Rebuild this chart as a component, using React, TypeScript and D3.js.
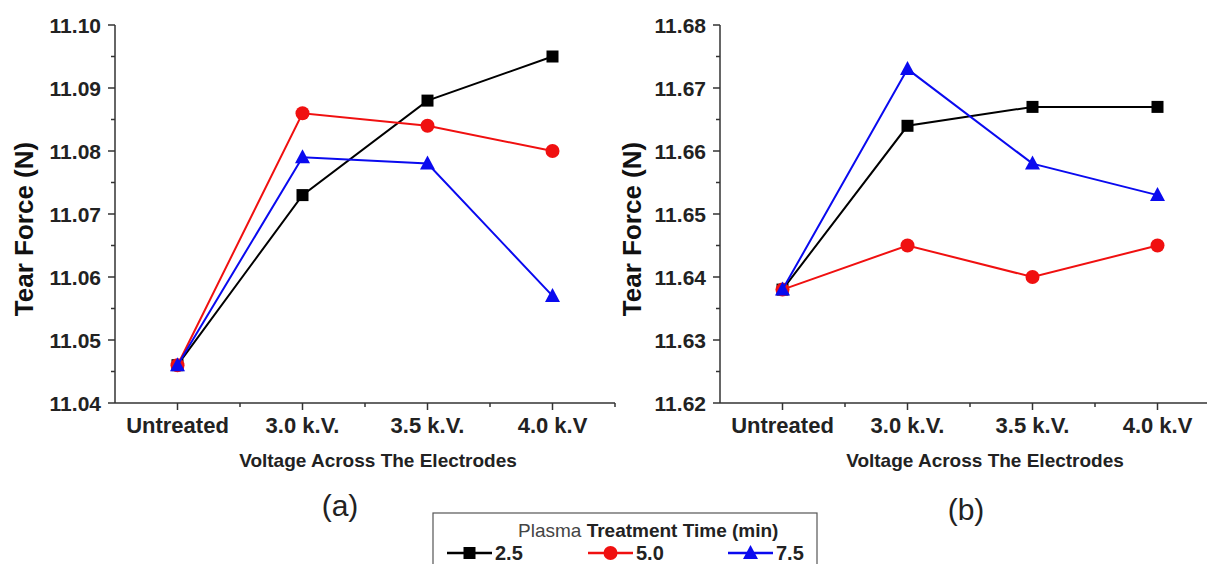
import React, { useEffect, useRef } from 'react';
import * as d3 from 'd3';

const categories = ['Untreated', '3.0 k.V.', '3.5 k.V.', '4.0 k.V'];
const seriesNames = ['2.5', '5.0', '7.5'];
const seriesColors = ['#000000', '#f01010', '#0a0aef'];
const seriesShapes = ['square', 'circle', 'triangle'];

// panel (a)
const ticksA = [11.04, 11.05, 11.06, 11.07, 11.08, 11.09, 11.1];
const a25 = [11.046, 11.073, 11.088, 11.095];
const a50 = [11.046, 11.086, 11.084, 11.08];
const a75 = [11.046, 11.079, 11.078, 11.057];

// panel (b)
const ticksB = [11.62, 11.63, 11.64, 11.65, 11.66, 11.67, 11.68];
const b25 = [11.638, 11.664, 11.667, 11.667];
const b50 = [11.638, 11.645, 11.64, 11.645];
const b75 = [11.638, 11.673, 11.658, 11.653];

const FONT = 'Liberation Sans, Arial, sans-serif';

const drawMarker = (g, shape, x, y, color) => {
  if (shape === 'square') {
    g.append('rect').attr('x', x - 6).attr('y', y - 6).attr('width', 12).attr('height', 12).attr('fill', color);
  } else if (shape === 'circle') {
    g.append('circle').attr('cx', x).attr('cy', y).attr('r', 7).attr('fill', color);
  } else {
    g.append('path')
      .attr('d', `M${x},${y - 8}L${x + 7.5},${y + 6}L${x - 7.5},${y + 6}Z`)
      .attr('fill', color);
  }
};

const drawPanel = (svg, opts) => {
  const { left, right, top, bottom, domain, ticks, series, label, labelX, labelY, titleX } = opts;
  const g = svg.append('g');

  const x = d3.scalePoint().domain(categories).range([left, right]).padding(0.5);
  const y = d3.scaleLinear().domain(domain).range([bottom, top]);
  const step = x.step();

  // axes lines
  g.append('line').attr('x1', left).attr('x2', left).attr('y1', top).attr('y2', bottom)
    .attr('stroke', '#333').attr('stroke-width', 1.5);
  g.append('line').attr('x1', left).attr('x2', right).attr('y1', bottom).attr('y2', bottom)
    .attr('stroke', '#333').attr('stroke-width', 1.5);

  // y ticks (major + minor)
  ticks.forEach((t, i) => {
    g.append('line').attr('x1', left - 7).attr('x2', left).attr('y1', y(t)).attr('y2', y(t))
      .attr('stroke', '#333').attr('stroke-width', 1.5);
    g.append('text').attr('x', left - 14).attr('y', y(t)).attr('dy', '0.36em')
      .attr('text-anchor', 'end').attr('font-family', FONT).attr('font-weight', 'bold')
      .attr('font-size', 21).attr('fill', '#222').text(t.toFixed(2));
    if (i < ticks.length - 1) {
      const m = (t + ticks[i + 1]) / 2;
      g.append('line').attr('x1', left - 4).attr('x2', left).attr('y1', y(m)).attr('y2', y(m))
        .attr('stroke', '#333').attr('stroke-width', 1.5);
    }
  });

  // x ticks
  categories.forEach(c => {
    g.append('line').attr('x1', x(c)).attr('x2', x(c)).attr('y1', bottom).attr('y2', bottom + 7)
      .attr('stroke', '#333').attr('stroke-width', 1.5);
    g.append('line').attr('x1', x(c) + step / 2).attr('x2', x(c) + step / 2)
      .attr('y1', bottom).attr('y2', bottom + 4).attr('stroke', '#333').attr('stroke-width', 1.5);
    g.append('text').attr('x', x(c)).attr('y', bottom + 30).attr('text-anchor', 'middle')
      .attr('font-family', FONT).attr('font-weight', 'bold').attr('font-size', 22)
      .attr('fill', '#222').text(c);
  });

  // axis titles
  g.append('text').attr('x', titleX).attr('y', bottom + 64).attr('text-anchor', 'middle')
    .attr('font-family', FONT).attr('font-weight', 'bold').attr('font-size', 19)
    .attr('fill', '#222').text('Voltage Across The Electrodes');
  g.append('text').attr('transform', `translate(${opts.yTitleX},229) rotate(-90)`)
    .attr('text-anchor', 'middle').attr('font-family', FONT).attr('font-weight', 'bold')
    .attr('font-size', 26).attr('fill', '#111').text('Tear Force (N)');

  // series
  const line = d3.line().x((d, i) => x(categories[i])).y(d => y(d));
  series.forEach((s, k) => {
    g.append('path').attr('d', line(s)).attr('fill', 'none')
      .attr('stroke', seriesColors[k]).attr('stroke-width', 2);
    s.forEach((v, i) => drawMarker(g, seriesShapes[k], x(categories[i]), y(v), seriesColors[k]));
  });

  // panel label
  g.append('text').attr('x', labelX).attr('y', labelY).attr('text-anchor', 'middle')
    .attr('font-family', FONT).attr('font-size', 30).attr('fill', '#222').text(label);
};

const App = () => {
  const svgRef = useRef(null);

  useEffect(() => {
    const svg = d3.select(svgRef.current);
    svg.selectAll('*').remove();

    drawPanel(svg, {
      left: 115, right: 615, top: 25, bottom: 403,
      domain: [11.04, 11.1], ticks: ticksA, series: [a25, a50, a75],
      label: '(a)', labelX: 340, labelY: 516, titleX: 378, yTitleX: 33,
    });
    drawPanel(svg, {
      left: 720, right: 1220, top: 25, bottom: 403,
      domain: [11.62, 11.68], ticks: ticksB, series: [b25, b50, b75],
      label: '(b)', labelX: 966, labelY: 520, titleX: 985, yTitleX: 641,
    });

    // legend
    const lg = svg.append('g');
    lg.append('rect').attr('x', 433).attr('y', 513).attr('width', 384).attr('height', 60)
      .attr('fill', 'white').attr('stroke', '#555').attr('stroke-width', 1.2);
    const title = lg.append('text').attr('x', 518).attr('y', 537)
      .attr('font-family', FONT).attr('font-size', 19).attr('fill', '#222');
    title.append('tspan').attr('fill', '#444').text('Plasma ');
    title.append('tspan').attr('font-weight', 'bold').text('Treatment Time (min)');

    const legendX = [447, 588, 728];
    seriesNames.forEach((name, k) => {
      const x0 = legendX[k];
      const cy = 553;
      lg.append('line').attr('x1', x0).attr('x2', x0 + 45).attr('y1', cy).attr('y2', cy)
        .attr('stroke', seriesColors[k]).attr('stroke-width', 2.5);
      drawMarker(lg, seriesShapes[k], x0 + 22.5, cy, seriesColors[k]);
      lg.append('text').attr('x', x0 + 48).attr('y', cy + 7).attr('font-family', FONT)
        .attr('font-weight', 'bold').attr('font-size', 20).attr('fill', '#222').text(name);
    });
  }, []);

  return (
    <svg ref={svgRef} width="1207" height="564"
      style={{ position: 'absolute', left: 0, top: 0, background: 'white' }}></svg>
  );
};

export default App;
